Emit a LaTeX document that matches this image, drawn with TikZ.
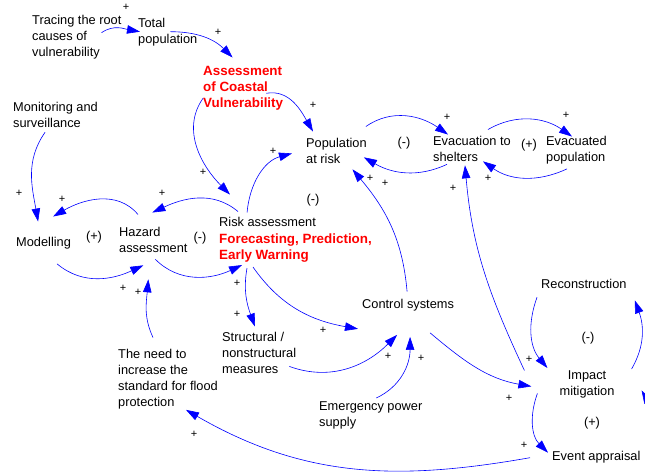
\documentclass[tikz,border=0pt]{standalone}
\usepackage{fontspec}
\setmainfont{Liberation Sans}
\usetikzlibrary{arrows.meta}

\begin{document}
\begin{tikzpicture}[x=1pt,y=1pt,
    var/.style={inner sep=0pt, align=left, anchor=base west, font=\fontsize{12.8}{16}\selectfont},
    key/.style={var, text=red, font=\fontsize{13.4}{16}\selectfont\bfseries},
    link/.style={draw=blue, line width=0.6pt, -{Triangle[length=13pt,width=8.5pt]}},
    plussign/.style={inner sep=0pt, font=\fontsize{11}{11}\selectfont},
    polarity/.style={inner sep=0pt, anchor=base, font=\fontsize{12.8}{16}\selectfont}]
    \useasboundingbox (0,0) rectangle (645,-472);
    \clip (0,0) rectangle (645,-472);

    % variables (placed at the baseline of their last line)
    \node[var] (tracing) at (32,-56) {Tracing the root\\causes of\\vulnerability};
    \node[var] (total) at (138,-43) {Total\\population};
    \node[key] (assess) at (203,-107) {Assessment\\of Coastal\\Vulnerability};
    \node[var] (monitor) at (13,-127) {Monitoring and\\surveillance};
    \node[var] (pop) at (306,-163) {Population\\at risk};
    \node[var] (evac) at (433,-161) {Evacuation to\\shelters};
    \node[var] (evacd) at (546,-161) {Evacuated\\population};
    \node[var] (model) at (16,-246) {Modelling};
    \node[var] (hazard) at (119,-252) {Hazard\\assessment};
    \node[var] (risk) at (219,-226) {Risk assessment};
    \node[key] (warn) at (219,-259) {Forecasting, Prediction,\\Early Warning};
    \node[var] (control) at (362,-308) {Control systems};
    \node[var] (struct) at (222,-373) {Structural /\\nonstructural\\measures};
    \node[var] (need) at (118,-406) {The need to\\increase the\\standard for flood\\protection};
    \node[var] (emerg) at (319,-426) {Emergency power\\supply};
    \node[var] (recon) at (541,-288) {Reconstruction};
    \node[var, align=center, anchor=base] (impact) at (587,-395) {Impact\\mitigation};
    \node[var] (event) at (552,-460) {Event appraisal};

    % loop polarities
    \node[polarity] (l1) at (404,-146) {(-)};
    \node[polarity] (l2) at (529,-148) {(+)};
    \node[polarity] (l3) at (313,-203) {(-)};
    \node[polarity] (l4) at (94,-240) {(+)};
    \node[polarity] (l5) at (200,-241) {(-)};
    \node[polarity] (l6) at (588,-341) {(-)};
    \node[polarity] (l7) at (592,-426) {(+)};

    % link polarities
    \foreach \px/\py [count=\i] in {126/7, 218/32, 313/105, 203/172, 273/151, 162/193,
        62/199, 19/193, 123/288, 237/283, 138/292, 237/314, 323/330, 388/356, 421/358,
        370/178, 385/183, 447/117, 566/115, 488/178, 453/188, 509/398, 529/359,
        524/445, 194/434}
        \node[plussign] (p\i) at (\px,-\py) {+};

    % links
    \draw[link] ([shift={(-20,4)}]tracing.east) to[out=35,in=170] ([shift={(2,0)}]total.west);
    \draw[link] ([shift={(-27,0)}]total.east) to[out=0,in=135] ([shift={(-10.5,8)}]assess.north);
    \draw[link] ([shift={(-17,-5.5)}]assess.east) to[out=10,in=120] ([shift={(7,6)}]pop.north west);
    \draw[link] ([shift={(0,-10.5)}]assess.west) to[out=235,in=135] ([shift={(11,22)}]risk.north west);
    \draw[link] ([shift={(-20.5,4)}]risk.north) to[out=85,in=195] ([shift={(-14,-3)}]pop.west);
    \draw[link] ([shift={(19,5)}]risk.north west) to[out=140,in=25] ([shift={(-1,14)}]hazard.north);
    \draw[link] ([shift={(19,12)}]hazard.north west) to[out=130,in=30] ([shift={(9.5,20)}]model.north);
    \draw[link] ([shift={(-10.5,-5)}]monitor.south) to[out=235,in=100] ([shift={(-5.5,15)}]model.north);
    \draw[link] ([shift={(13.5,-15)}]model.south) to[out=-40,in=-155] ([shift={(-10,-13)}]hazard.south);
    \draw[link] ([shift={(2,-7)}]hazard.south) to[out=-45,in=-155] ([shift={(23,-3)}]warn.south west);
    \draw[link] ([shift={(-15,11)}]need.north) to[out=115,in=-95] ([shift={(-5,-27)}]hazard.south);
    \draw[link] ([shift={(28,-6)}]warn.south west) to[out=-100,in=110] ([shift={(33,5)}]struct.north west);
    \draw[link] ([shift={(34,-5)}]warn.south west) to[out=-55,in=170] ([shift={(-4,-18)}]control.south west);
    \draw[link] ([shift={(-7,-14)}]struct.east) to[out=-20,in=-135] ([shift={(-11,-24)}]control.south);
    \draw[link] ([shift={(5.5,3)}]emerg.north) to[out=25,in=-90] ([shift={(2,-26)}]control.south);
    \draw[link] ([shift={(-1,7)}]control.north) to[out=95,in=-50] ([shift={(16,-6)}]pop.south);
    \draw[link] ([shift={(14,-3)}]evac.south west) to[out=-155,in=-30] ([shift={(-3,6)}]pop.south east);
    \draw[link] ([shift={(-1,11)}]pop.north east) to[out=35,in=145] ([shift={(15,1)}]evac.north west);
    \draw[link] ([shift={(16,6)}]evac.north) to[out=30,in=145] ([shift={(26,-1)}]evacd.north west);
    \draw[link] ([shift={(21,-5)}]evacd.south west) to[out=-155,in=-35] ([shift={(11,0)}]evac.south);
    \draw[link] ([shift={(-35,13.5)}]impact.west) to[out=115,in=-85] ([shift={(-7,-4)}]evac.south);
    \draw[link] ([shift={(22,-22)}]control.south) to[out=-40,in=170] ([shift={(-28,-2.5)}]impact.west);
    \draw[link] ([shift={(-4,-9)}]recon.south west) to[out=-110,in=130] ([shift={(-12,2)}]impact.north west);
    \draw[link] ([shift={(-22,-9.5)}]impact.west) to[out=-110,in=135] ([shift={(-4,4)}]event.west);
    \draw[link] ([shift={(-22,-1)}]event.west) to[out=190,in=-30] ([shift={(18,-1)}]need.south);
    \draw[link] ([shift={(17,1)}]impact.north east) to[out=60,in=-70] ([shift={(8,-12)}]recon.south east);
    \draw[link] ([shift={(25,2)}]event.east) to[out=70,in=-60] ([shift={(27,-6.5)}]impact.east);
\end{tikzpicture}
\end{document}
